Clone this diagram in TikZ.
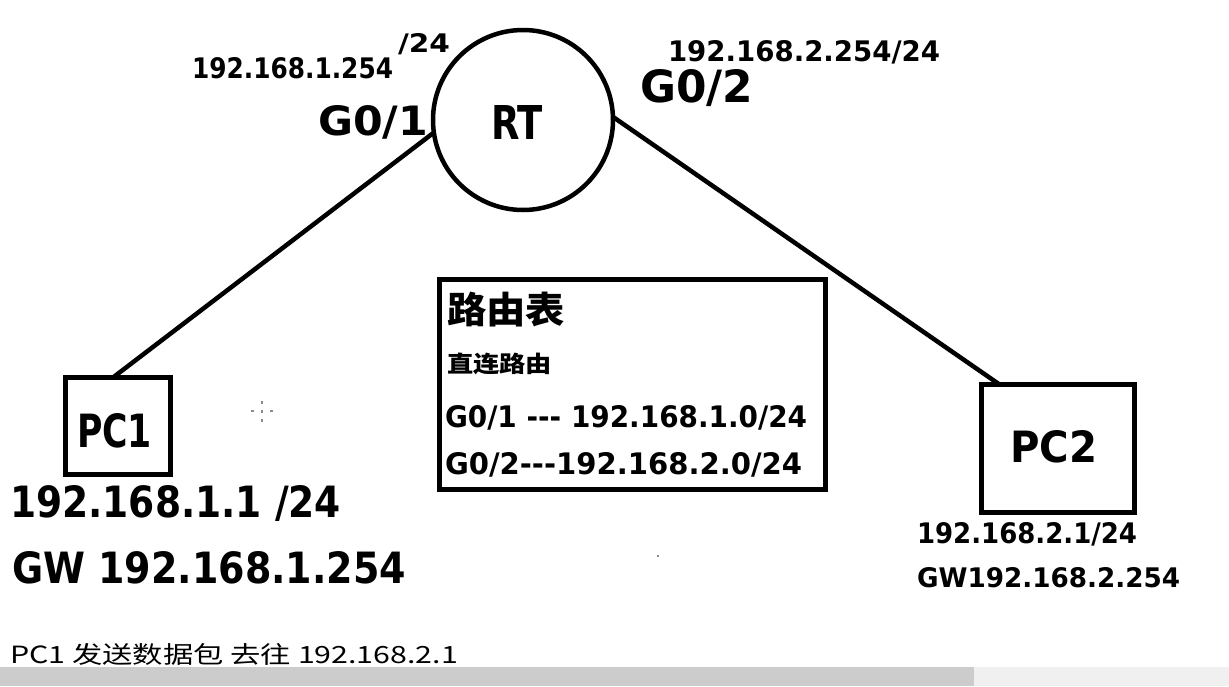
\documentclass[tikz,border=0pt]{standalone}
\usepackage{fontspec}
\usepackage{graphicx}
\setmainfont{DejaVu Sans}[Ligatures=NoCommon]
\newfontfamily\cjk{Noto Sans CJK SC}
\newcommand{\fitb}[3]{\resizebox{#1pt}{#2pt}{\bfseries #3}}
\newcommand{\fitc}[3]{\resizebox*{#1pt}{#2pt}{\cjk\bfseries #3}}
\newcommand{\fitn}[3]{\resizebox*{#1pt}{#2pt}{\cjk #3}}
\begin{document}
\begin{tikzpicture}[x=1pt,y=-1pt,
  lbl/.style={anchor=base west, inner sep=0pt, outer sep=0pt},
  cj/.style={anchor=south west, inner sep=0pt, outer sep=0pt},
  dev/.style={draw, line width=5pt, inner sep=0pt, outer sep=0pt},
  link/.style={line width=4.5pt},
  dotc/.style={fill=black!45}]
\path[use as bounding box, fill=white] (0,0) rectangle (1229,686);
% scroll bar
\fill[black!20] (0,667) rectangle (974,686);
\fill[black!6] (974,667) rectangle (1229,686);

% devices
\node[dev, circle, line width=4.5pt, minimum size=180pt] (RT) at (523,120) {};
\node[lbl] (rtlbl) at (491,139) {\fitb{52}{34}{RT}};
\node[dev, minimum width=105pt, minimum height=97pt] (PC1) at (118,426) {};
\node[lbl] (pc1lbl) at (77,447) {\fitb{75}{34}{PC1}};
\node[dev, minimum width=153pt, minimum height=128pt] (PC2) at (1058,448.5) {};
\node[lbl] (pc2lbl) at (1010,462) {\fitb{87}{32}{PC2}};

% links
\draw[link] (RT.188) -- ([xshift=-5pt]PC1.north);
\draw[link] (RT.2) -- ([xshift=18pt]PC2.north west);

% router labels
\node[lbl] (ip1) at (192,78) {\fitb{201}{21}{192.168.1.254}};
\node[lbl] (m1) at (398,52) {\fitb{52}{19}{/24}};
\node[lbl] (g01) at (318,135) {\fitb{110}{30}{G0/1}};
\node[lbl] (ip2) at (668,61) {\fitb{272}{21}{192.168.2.254/24}};
\node[lbl] (g02) at (640,102) {\fitb{113}{33}{G0/2}};

% PC labels
\node[lbl] (pc1ip) at (10,517) {\fitb{331}{32}{192.168.1.1 /24}};
\node[lbl] (pc1gw) at (12,583) {\fitb{394}{32}{GW 192.168.1.254}};
\node[lbl] (pc2ip) at (917,543) {\fitb{220}{21}{192.168.2.1/24}};
\node[lbl] (pc2gw) at (917,587) {\fitb{263}{20}{GW192.168.2.254}};

% routing table
\node[dev, minimum width=386pt, minimum height=210pt] (tab) at (632.5,384.5) {};
\node[cj] (t1) at (447,327) {\fitc{118}{35}{路由表}};
\node[cj] (t2) at (447,375) {\fitc{105}{22}{直连路由}};
\node[lbl] (t3) at (445,427) {\fitb{362}{22}{G0/1 -{}-{}- 192.168.1.0/24}};
\node[lbl] (t4) at (445,474) {\fitb{357}{22}{G0/2-{}-{}-192.168.2.0/24}};

% bottom note
\node[cj] (note) at (10,665) {\fitn{448}{22}{PC1 发送数据包 去往 192.168.2.1}};

% cursor marks
\fill[dotc] (261,401) rectangle (263,404);
\fill[dotc] (261,410) rectangle (263,413);
\fill[dotc] (261,419) rectangle (263,422);
\fill[dotc] (251,410) rectangle (254,412);
\fill[dotc] (270,410) rectangle (273,412);
\fill[dotc] (657,555) rectangle (659,557);
\end{tikzpicture}
\end{document}
